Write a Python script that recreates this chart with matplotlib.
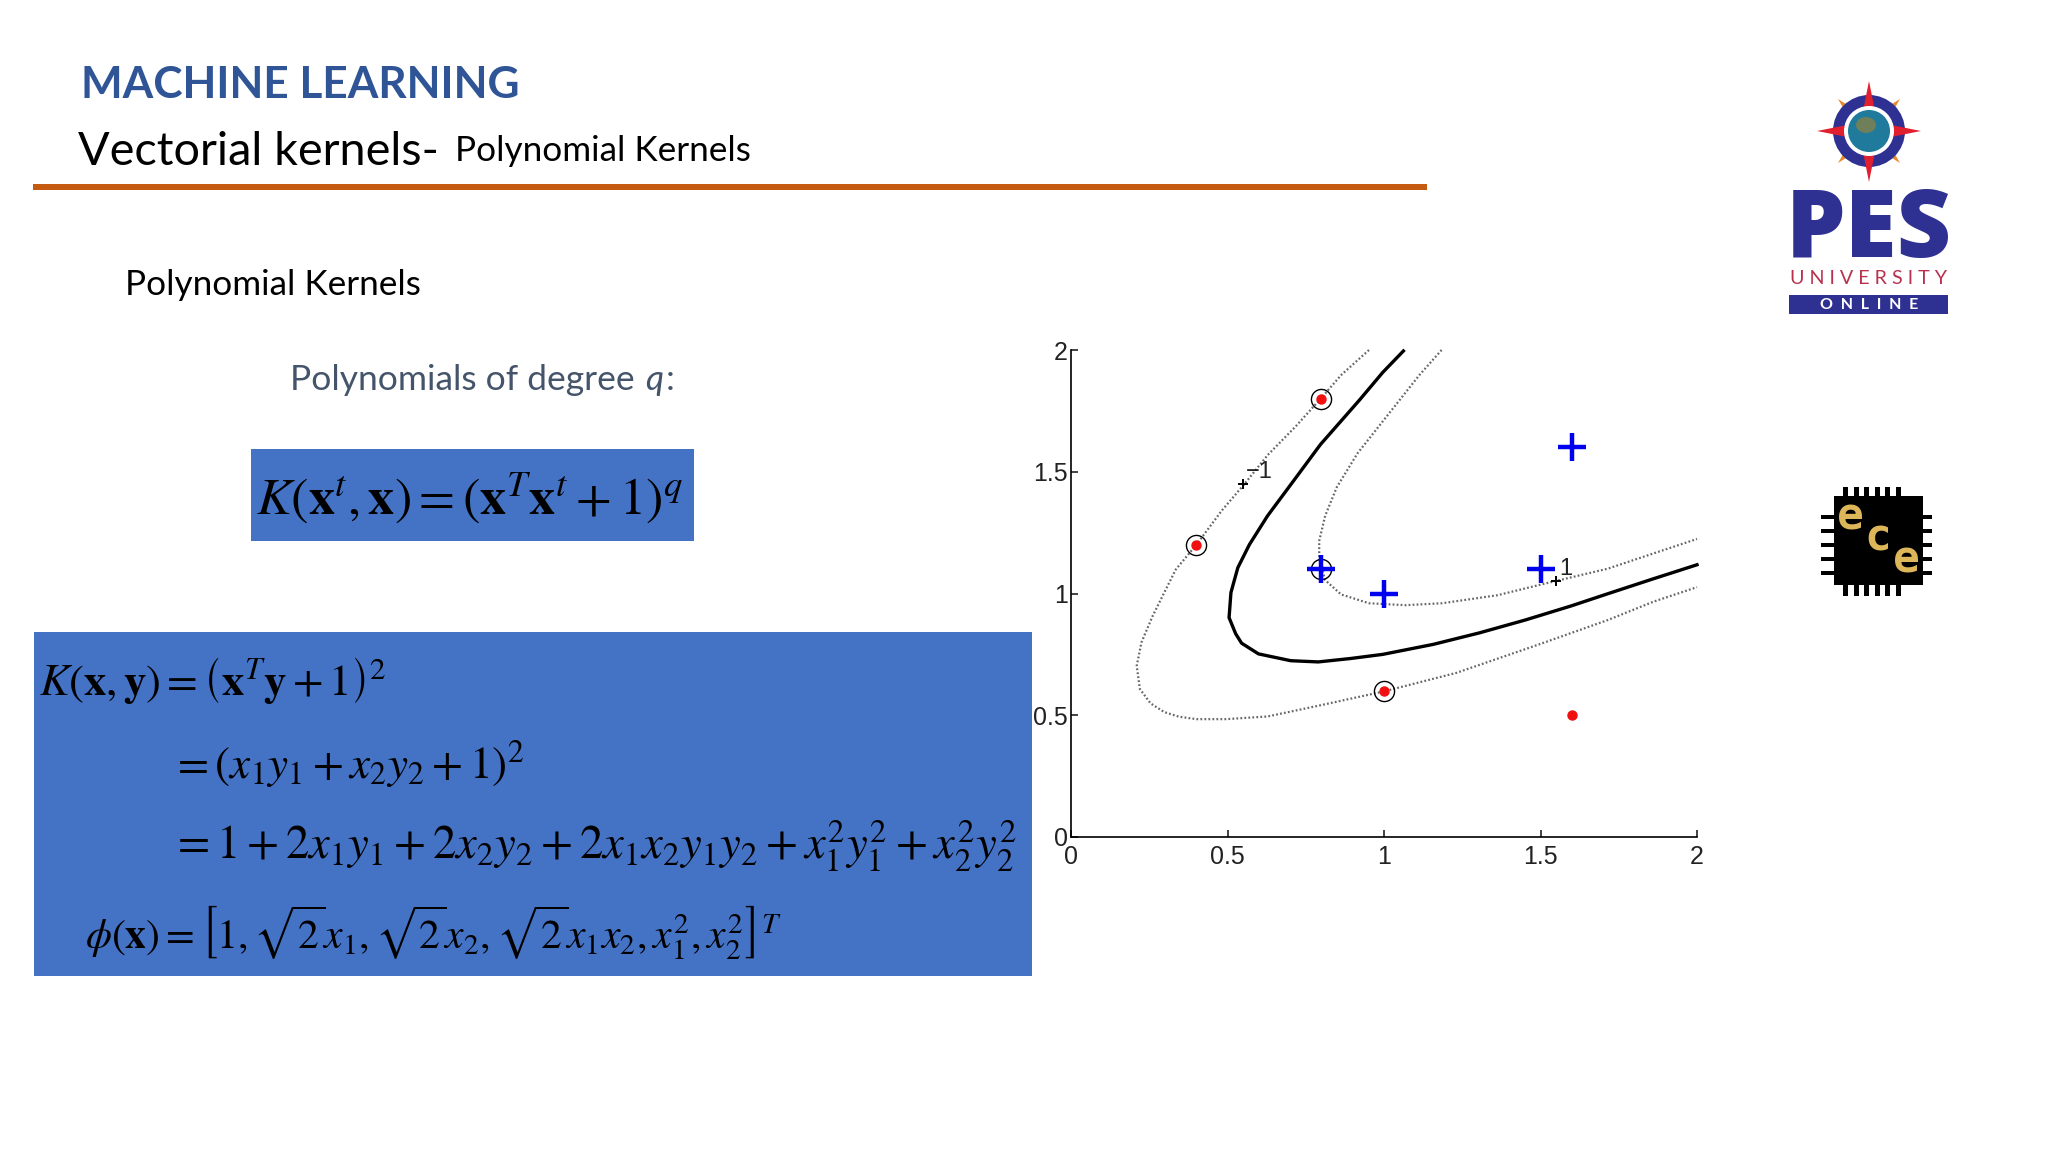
import matplotlib
matplotlib.use("Agg")
import matplotlib.pyplot as plt
import matplotlib.patches as patches

plt.rcParams['mathtext.fontset'] = 'stix'

# chart values
tick_values = [0, 0.5, 1, 1.5, 2]
tick_labels = ['0', '0.5', '1', '1.5', '2']

boundary_x = [1.062, 0.996, 0.922, 0.797, 0.717, 0.628, 0.570, 0.533, 0.511, 0.505, 0.526, 0.545,
              0.599, 0.702, 0.790, 0.893, 0.996, 1.157, 1.304, 1.451, 1.598, 1.715, 1.862, 2.0]
boundary_y = [1.996, 1.908, 1.795, 1.612, 1.473, 1.319, 1.201, 1.106, 1.004, 0.901, 0.835, 0.796,
              0.752, 0.724, 0.719, 0.733, 0.750, 0.791, 0.838, 0.891, 0.949, 0.999, 1.061, 1.118]

lower_x = [0.952, 0.863, 0.799, 0.717, 0.628, 0.555, 0.482, 0.401, 0.335, 0.298, 0.261, 0.225, 0.210,
           0.220, 0.254, 0.298, 0.345, 0.401, 0.496, 0.628, 0.790, 1.0, 1.231, 1.502, 1.715, 1.862, 2.0]
lower_y = [2.0, 1.897, 1.802, 1.685, 1.568, 1.451, 1.341, 1.201, 1.099, 1.004, 0.908, 0.799, 0.703,
           0.608, 0.549, 0.513, 0.494, 0.484, 0.484, 0.495, 0.539, 0.598, 0.674, 0.794, 0.891, 0.967, 1.026]

upper_x = [1.184, 1.113, 0.996, 0.915, 0.849, 0.812, 0.793, 0.793, 0.812, 0.863, 0.952, 1.069,
           1.186, 1.363, 1.502, 1.715, 1.862, 2.0]
upper_y = [2.0, 1.897, 1.707, 1.575, 1.436, 1.319, 1.216, 1.143, 1.055, 0.996, 0.960, 0.952,
           0.960, 0.993, 1.037, 1.102, 1.165, 1.224]

plus_x = [0.8, 1.0, 1.5, 1.6]
plus_y = [1.1, 1.0, 1.1, 1.6]
dot_x = [0.4, 0.8, 1.0, 1.6]
dot_y = [1.2, 1.8, 0.6, 0.5]
circle_x = [0.4, 0.8, 1.0, 0.8]
circle_y = [1.2, 1.8, 0.6, 1.1]
label_x = [0.55, 1.55]
label_y = [1.45, 1.05]
label_text = ['\u22121', '1']

W, H = 2048, 1152
fig = plt.figure(figsize=(W / 100, H / 100), dpi=100, facecolor='white')

# slide layer in pixels
bg = fig.add_axes([0, 0, 1, 1])
bg.set_xlim(0, W)
bg.set_ylim(H, 0)
bg.axis('off')

sans = ['Lato', 'DejaVu Sans']
navy = '#2E3192'

bg.text(81, 85, 'MACHINE LEARNING', family=sans, fontsize=31.8, fontweight='bold', color='#2F5597', va='center')
bg.text(78, 152, 'Vectorial kernels-', family=sans, fontsize=33.7, color='black', va='center')
bg.text(455, 151, 'Polynomial Kernels', family=sans, fontsize=25.3, color='black', va='center')
bg.add_patch(patches.Rectangle((33, 184), 1394, 6, color='#C55A11', lw=0))
bg.text(125, 285, 'Polynomial Kernels', family=sans, fontsize=25.3, color='black', va='center')
bg.text(290, 380, 'Polynomials of degree', family=sans, fontsize=25.5, color='#44546A', va='center')
bg.text(645, 380, 'q', family=sans, fontsize=25.5, style='italic', color='#44546A', va='center')
bg.text(666, 380, ':', family=sans, fontsize=25.5, color='#44546A', va='center')

# blue formula boxes
bg.add_patch(patches.Rectangle((251, 449), 443, 92, color='#4472C4', lw=0))
bg.add_patch(patches.Rectangle((34, 632), 998, 344, color='#4472C4', lw=0))

bg.text(256, 498, r'$K\left(\mathbf{x}^{t},\mathbf{x}\right)=\left(\mathbf{x}^{T}\mathbf{x}^{t}+1\right)^{q}$',
        fontsize=37.5, color='black', va='center')
bg.text(39, 681, r'$K\left(\mathbf{x},\mathbf{y}\right)=\left(\mathbf{x}^{T}\mathbf{y}+1\right)^{2}$',
        fontsize=32, color='black', va='center')
bg.text(171, 764, r'$=\left(x_1y_1+x_2y_2+1\right)^{2}$', fontsize=32.5, color='black', va='center')
bg.text(171, 846, r'$=1+2x_1y_1+2x_2y_2+2x_1x_2y_1y_2+x_1^2y_1^2+x_2^2y_2^2$', fontsize=33.6, color='black', va='center')
bg.text(85, 933, r'$\phi\left(\mathbf{x}\right)=\left[1,\sqrt{2}x_1,\sqrt{2}x_2,\sqrt{2}x_1x_2,x_1^2,x_2^2\right]^{T}$',
        fontsize=30, color='black', va='center')

# university logo
cx, cy = 1869, 131
for dx, dy in [(-31, -32), (31, -32), (31, 32), (-31, 32)]:
    bg.add_patch(patches.Polygon([(cx + dx, cy + dy), (cx + dy * 0.25, cy - dx * 0.25), (cx - dy * 0.25, cy + dx * 0.25)],
                                 color='#E98A2B', lw=0, zorder=2))
bg.add_patch(patches.Circle((cx, cy), 36, color=navy, lw=0, zorder=3))
for dx, dy in [(0, -50), (52, 0), (0, 51), (-52, 0)]:
    bg.add_patch(patches.Polygon([(cx + dx, cy + dy), (cx + dy * 0.2, cy - dx * 0.2), (cx - dy * 0.2, cy + dx * 0.2)],
                                 color='#E0202E', lw=0, zorder=4))
bg.add_patch(patches.Circle((cx, cy), 25, color='white', lw=0, zorder=5))
bg.add_patch(patches.Circle((cx, cy), 21, color='#1F7A9C', lw=0, zorder=6))
bg.add_patch(patches.Ellipse((cx - 3, cy - 6), 20, 16, color='#6E7F5A', lw=0, zorder=7))

bg.text(1869, 232, 'PES', family=['Open Sans', 'DejaVu Sans'], fontsize=68, fontweight=800, color=navy, ha='center', va='center')
bg.text(1869, 279, 'U N I V E R S I T Y', family=sans, fontsize=14.2, color='#B8324F', ha='center', va='center')
bg.add_patch(patches.Rectangle((1789, 295), 159, 19, color=navy, lw=0))
bg.text(1869, 305, 'O  N  L  I  N  E', family=sans, fontsize=11.5, fontweight='bold', color='white', ha='center', va='center')

# ece chip
bg.add_patch(patches.Rectangle((1834, 496), 89, 89, color='black', lw=0))
for i in range(6):
    bg.add_patch(patches.Rectangle((1843 + i * 10.5, 487), 5, 109, color='black', lw=0, zorder=1))
for i in range(5):
    bg.add_patch(patches.Rectangle((1821, 515 + i * 14), 111, 4, color='black', lw=0, zorder=1))
for letter, lx, ly in [('e', 1850, 517), ('c', 1878, 538), ('e', 1906, 560)]:
    bg.text(lx, ly, letter, family='DejaVu Sans Mono', fontsize=32, fontweight='bold', color='#DDB65A',
            ha='center', va='center', zorder=3)

# the chart itself
x0, x1, y0, y1 = 1071, 1697, 350, 837
ax = fig.add_axes([x0 / W, 1 - y1 / H, (x1 - x0) / W, (y1 - y0) / H], facecolor='none')
ax.set_xlim(0, 2)
ax.set_ylim(0, 2)
ax.spines['top'].set_visible(False)
ax.spines['right'].set_visible(False)
ax.spines['left'].set_linewidth(1.2)
ax.spines['bottom'].set_linewidth(1.2)
ax.set_xticks(tick_values, tick_labels)
ax.set_yticks(tick_values, tick_labels)
ax.tick_params(direction='in', length=5, width=1.2, labelsize=18, colors='#222222')
ax.tick_params(axis='x', pad=6)
ax.tick_params(axis='y', pad=2.5)
for lab in ax.get_xticklabels() + ax.get_yticklabels():
    lab.set_family('Liberation Sans')

ax.plot(boundary_x, boundary_y, color='black', lw=2.4, clip_on=False)
ax.plot(lower_x, lower_y, color='#666666', lw=1.6, ls=(0, (0.8, 1.0)), clip_on=False)
ax.plot(upper_x, upper_y, color='#666666', lw=1.6, ls=(0, (0.8, 1.0)), clip_on=False)
ax.plot(circle_x, circle_y, ls='none', marker='o', ms=14.5, mfc='none', mec='black', mew=1.0)
ax.plot(dot_x, dot_y, ls='none', marker='o', ms=6.5, color='#F01010')
ax.plot(plus_x, plus_y, ls='none', marker='+', ms=19.5, mew=3.2, color='#0000F0')
ax.plot(label_x, label_y, ls='none', marker='+', ms=7, mew=1.4, color='black')
for tx, ty, s in zip(label_x, label_y, label_text):
    ax.text(tx + 0.01, ty + 0.005, s, family='Liberation Sans', fontsize=17, color='#222222', va='bottom')

fig.savefig('out.png', dpi=100)
